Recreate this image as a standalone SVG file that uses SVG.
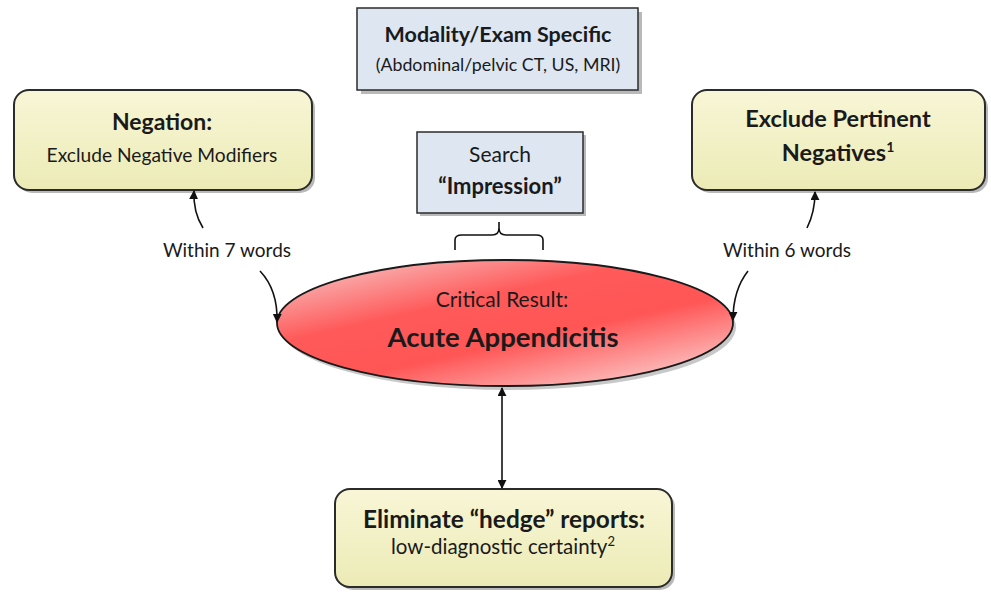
<svg xmlns="http://www.w3.org/2000/svg" width="991" height="592" viewBox="0 0 991 592">
<style>
text{font-family:Lato,"Open Sans","Liberation Sans",sans-serif;fill:#1a1a1a;text-anchor:middle}
.b{font-weight:bold}
.ybox{fill:url(#yg);stroke:#2b2b2b;stroke-width:2}
.bbox{fill:#dde6f1;stroke:#2b2b2b;stroke-width:1.5}
.sh{fill:#8a8a8a;opacity:0.6}
.con{fill:none;stroke:#111;stroke-width:1.6}
</style>
<defs>
<linearGradient id="yg" x1="0" y1="0" x2="0" y2="1">
<stop offset="0" stop-color="#f8f6d6"/>
<stop offset="1" stop-color="#ecebb6"/>
</linearGradient>
<linearGradient id="rg" x1="0.1" y1="0" x2="0.9" y2="1">
<stop offset="0" stop-color="#f7c4c4"/>
<stop offset="0.35" stop-color="#ff5a5a"/>
<stop offset="0.6" stop-color="#ff5555"/>
<stop offset="1" stop-color="#fbd6d6"/>
</linearGradient>
<marker id="ah" viewBox="0 0 10 10" refX="9" refY="5" markerWidth="9" markerHeight="9" orient="auto-start-reverse" markerUnits="userSpaceOnUse">
<path d="M0,0 L10,5 L0,10 z" fill="#111"/>
</marker>
</defs>

<g id="modality">
<rect class="sh" x="361" y="12" width="281" height="82"/>
<rect class="bbox" x="357" y="8" width="281" height="82"/>
<text class="b" x="498" y="42" font-size="21.5">Modality/Exam Specific</text>
<text x="498" y="71" font-size="17.8">(Abdominal/pelvic CT, US, MRI)</text>
</g>

<g id="negation">
<rect class="sh" x="17" y="93" width="298" height="100" rx="15"/>
<rect class="ybox" x="14" y="90" width="298" height="100" rx="15"/>
<text class="b" x="162" y="130" font-size="23">Negation:</text>
<text x="162" y="162" font-size="19.2">Exclude Negative Modifiers</text>
</g>

<g id="pertinent">
<rect class="sh" x="695" y="93" width="293" height="100" rx="15"/>
<rect class="ybox" x="692" y="90" width="293" height="100" rx="15"/>
<text class="b" x="838" y="127" font-size="23.5">Exclude Pertinent</text>
<text class="b" x="838" y="161" font-size="23.5">Negatives<tspan font-size="14" dy="-9">1</tspan></text>
</g>

<g id="search">
<rect class="sh" x="420" y="135" width="166" height="81"/>
<rect class="bbox" x="417" y="132" width="166" height="81"/>
<text x="500" y="162" font-size="21">Search</text>
<text class="b" x="500" y="194" font-size="22">“Impression”</text>
</g>

<g id="critical">
<ellipse cx="508" cy="327" rx="228" ry="63" fill="#9a9a9a" opacity="0.55"/>
<ellipse cx="505" cy="323" rx="228" ry="63" fill="url(#rg)" stroke="#1a1a1a" stroke-width="1.8"/>
<text x="502" y="307" font-size="21">Critical Result:</text>
<text class="b" x="503" y="347" font-size="27.5">Acute Appendicitis</text>
</g>

<g id="hedge">
<rect class="sh" x="338" y="492" width="337" height="98" rx="15"/>
<rect class="ybox" x="335" y="489" width="337" height="98" rx="15"/>
<text class="b" x="504" y="528" font-size="24.4">Eliminate “hedge” reports:</text>
<text x="503" y="554" font-size="20.5">low-diagnostic certainty<tspan font-size="13" dy="-8">2</tspan></text>
</g>

<g id="connectors">
<path class="con" d="M455,250 L455,240 Q455,235 462,235 L492,235 Q499,235 499,228 L499,222 L499,228 Q499,235 506,235 L536,235 Q543,235 543,240 L543,250"/>
<path class="con" d="M203,228 Q193,212 194,191" marker-end="url(#ah)"/>
<path class="con" d="M260,271 Q278,290 277,322" marker-end="url(#ah)"/>
<path class="con" d="M807,228 Q815,212 815,192" marker-end="url(#ah)"/>
<path class="con" d="M748,271 Q733,290 733,320" marker-end="url(#ah)"/>
<path class="con" d="M502,388 L502,488" marker-start="url(#ah)" marker-end="url(#ah)"/>
<text x="227" y="257" font-size="19">Within 7 words</text>
<text x="787" y="257" font-size="19">Within 6 words</text>
</g>
</svg>
